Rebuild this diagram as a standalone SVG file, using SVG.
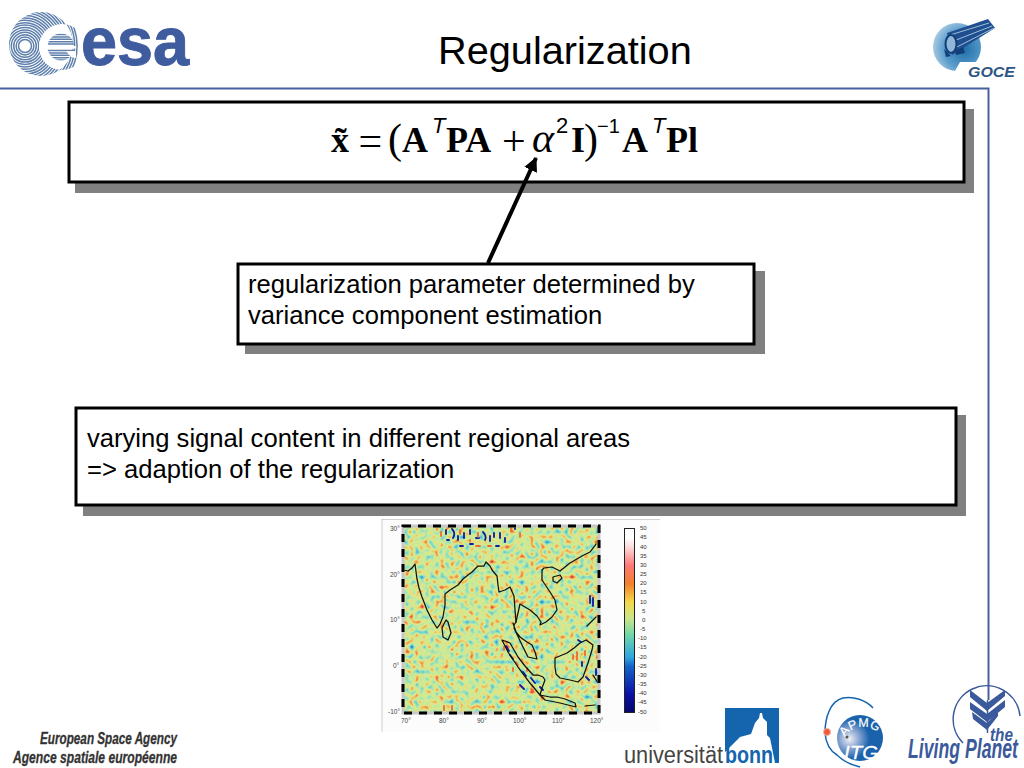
<svg xmlns="http://www.w3.org/2000/svg" xmlns:xlink="http://www.w3.org/1999/xlink" width="1024" height="768" viewBox="0 0 1024 768">
<style>
.box{fill:#fff;stroke:#000;stroke-width:3}
.shadow{fill:#808080}
.t{font-family:"Liberation Sans",Arial,sans-serif;font-size:25.6px;fill:#000}
.fb{font-family:"Liberation Serif","Times New Roman",serif;font-weight:bold;font-size:36px;fill:#000}
.fr{font-family:"Liberation Serif","Times New Roman",serif;font-size:42px;fill:#000}
.fs{font-family:"Liberation Sans",Arial,sans-serif;font-size:22px;fill:#000}
.ax{font-family:"Liberation Sans",Arial,sans-serif;font-size:6.5px;fill:#444}
.cb{font-family:"Liberation Sans",Arial,sans-serif;font-size:6px;fill:#333}
.lp{fill:#3b5a9c}
.coast{fill:none;stroke:#111;stroke-width:1.250;stroke-linejoin:round;stroke-linecap:round}
</style>
<defs>
<marker id="ah" markerUnits="userSpaceOnUse" markerWidth="18" markerHeight="18" refX="13" refY="7" orient="auto"><path d="M0,0L14,7L0,14Z" fill="#000"/></marker>
<filter id="noise" x="0" y="0" width="1" height="1" color-interpolation-filters="sRGB">
<feTurbulence type="fractalNoise" baseFrequency="0.2" numOctaves="1" seed="7"/>
<feColorMatrix type="matrix" values="1 0 0 0 0 1 0 0 0 0 1 0 0 0 0 0 0 0 0 1"/>
<feComponentTransfer>
<feFuncR type="table" tableValues="0.1 0.1 0.2 0.5 0.68 0.82 0.9 0.95 0.9 0.9 0.9"/>
<feFuncG type="table" tableValues="0.2 0.3 0.65 0.85 0.9 0.92 0.88 0.66 0.3 0.3 0.3"/>
<feFuncB type="table" tableValues="0.7 0.8 0.88 0.78 0.68 0.58 0.5 0.32 0.25 0.25 0.25"/>
</feComponentTransfer>
<feGaussianBlur stdDeviation="0.5"/>
</filter>
<filter id="soft"><feGaussianBlur stdDeviation="0.5"/></filter>
<linearGradient id="cbar" x1="0" y1="0" x2="0" y2="1">
<stop offset="0" stop-color="#fff"/><stop offset="0.05" stop-color="#fff"/><stop offset="0.1" stop-color="#fbdcdc"/><stop offset="0.2" stop-color="#f77"/><stop offset="0.3" stop-color="#f2802c"/><stop offset="0.4" stop-color="#f5d84a"/><stop offset="0.49" stop-color="#c8e68a"/><stop offset="0.58" stop-color="#6fd6a8"/><stop offset="0.7" stop-color="#2fa5e0"/><stop offset="0.75" stop-color="#1464c8"/><stop offset="0.9" stop-color="#0a10a8"/><stop offset="1" stop-color="#06066a"/>
</linearGradient>
<radialGradient id="goce" cx="0.65" cy="0.55" r="0.75"><stop offset="0" stop-color="#1f6fa8"/><stop offset="0.55" stop-color="#5a9ccc"/><stop offset="1" stop-color="#c5dcea"/></radialGradient>
<radialGradient id="itg" cx="0.27" cy="0.52" r="0.7"><stop offset="0" stop-color="#f0f2f6"/><stop offset="0.3" stop-color="#8aa6d2"/><stop offset="0.62" stop-color="#1a62ac"/></radialGradient>
<clipPath id="plot"><rect x="403" y="526" width="196" height="187"/></clipPath>
<clipPath id="eclip"><circle cx="61" cy="47" r="13.500"/></clipPath>
<clipPath id="gclip"><path fill-rule="evenodd" clip-rule="evenodd" d="M41,12A32,32 0 1 1 41,76A32,32 0 1 1 41,12ZM62,24A23,23 0 1 0 62,70A23,23 0 1 0 62,24Z"/></clipPath>
<path id="apmg" d="M845,737A21,21 0 0 1 878,733"/>
</defs>
<rect width="1024" height="768" fill="#fff"/>

<g id="frame" fill="none" stroke="#4a5f9e" stroke-width="2"><path d="M0,88.500H988.500V700"/></g>

<g id="esa-logo">
<g clip-path="url(#gclip)" fill="none" stroke="#5f80ac" stroke-width="1.500">
<circle cx="25" cy="46" r="6.500"/><circle cx="25" cy="46" r="8.900"/><circle cx="25" cy="46" r="11.300"/><circle cx="25" cy="46" r="13.700"/><circle cx="25" cy="46" r="16.100"/><circle cx="25" cy="46" r="18.500"/><circle cx="25" cy="46" r="20.900"/><circle cx="25" cy="46" r="23.300"/><circle cx="25" cy="46" r="25.700"/><circle cx="25" cy="46" r="28.100"/><circle cx="25" cy="46" r="30.500"/><circle cx="25" cy="46" r="32.900"/><circle cx="25" cy="46" r="35.300"/><circle cx="25" cy="46" r="37.700"/><circle cx="25" cy="46" r="40.100"/><circle cx="25" cy="46" r="42.500"/><circle cx="25" cy="46" r="44.900"/><circle cx="25" cy="46" r="47.300"/><circle cx="25" cy="46" r="49.700"/><circle cx="25" cy="46" r="52.100"/>
</g>
<g clip-path="url(#eclip)" stroke="#5f80ac" stroke-width="1.500"><path d="M46,34.500H76M46,36.900H76M46,39.300H76M46,41.700H76M46,44.100H76M46,50.500H76M46,52.900H76M46,55.300H76M46,57.700H76M46,60.100H76"/></g>
<path d="M56,46L76,46V48.500L58,49Z" fill="#fff"/>
<path d="M66,51L76,51V58L71,57Z" fill="#fff"/>
<text x="81" y="65" font-family="Liberation Sans,Arial,sans-serif" font-weight="bold" font-size="68" fill="#3f5c9f" textLength="108" lengthAdjust="spacingAndGlyphs" stroke="#3f5c9f" stroke-width="1">esa</text>
</g>

<text id="title" x="438" y="64" font-family="Liberation Sans,Arial,sans-serif" font-size="39.700px" fill="#000">Regularization</text>

<g id="goce-logo">
<circle cx="957" cy="47" r="24" fill="url(#goce)"/>
<path d="M960,62H1020V80H950Z" fill="#fff"/>
<path d="M947,33L988,19L995,28L952,55Z" fill="#1f4f8f"/>
<path d="M950,35L989,23M951,42L992,26M953,49L994,28" stroke="#9fc0dc" stroke-width="1" fill="none"/>
<ellipse cx="951" cy="44" rx="5.500" ry="9" fill="#8fb8d8" stroke="#123e78" stroke-width="2"/>
<path d="M944,49L951,56L946,57ZM955,51L963,47L965,53L956,55Z" fill="#123e78"/>
<text x="968" y="77" font-family="Liberation Sans,Arial,sans-serif" font-weight="bold" font-style="italic" font-size="14" fill="#2d5684" textLength="47" lengthAdjust="spacingAndGlyphs">GOCE</text>
</g>

<g id="formula-box">
<rect class="shadow" x="75" y="109" width="899" height="84"/>
<rect class="box" x="69" y="102" width="895" height="80"/>
<text class="fb" x="331" y="152">x&#771;</text>
<text class="fr" x="358.500" y="155">=</text>
<text class="fr" x="388" y="153">(</text>
<text class="fb" x="402" y="152">A</text>
<text class="fs" x="432" y="133" font-style="italic">T</text>
<text class="fb" x="446" y="152">PA</text>
<text class="fr" x="502" y="155">+</text>
<text class="fr" x="532" y="152" font-style="italic">&#945;</text>
<text class="fs" x="556" y="133">2</text>
<text class="fb" x="571" y="152">I</text>
<text class="fr" x="584" y="153">)</text>
<text class="fs" x="597" y="133" style="font-size:20px">&#8722;1</text>
<text class="fb" x="622" y="152">A</text>
<text class="fs" x="652" y="133" font-style="italic">T</text>
<text class="fb" x="666" y="152">Pl</text>
</g>

<g id="parameter-box">
<rect class="shadow" x="245" y="271" width="520" height="83"/>
<rect class="box" x="238" y="264" width="516" height="80"/>
<text class="t" x="248" y="293">regularization parameter determined by</text>
<text class="t" x="248" y="324">variance component estimation</text>
</g>

<g id="signal-box">
<rect class="shadow" x="83" y="415" width="883" height="101"/>
<rect class="box" x="76" y="408" width="880" height="97"/>
<text class="t" x="87" y="447">varying signal content in different regional areas</text>
<text class="t" x="87" y="478">=&gt; adaption of the regularization</text>
</g>

<g id="connectors">
<path d="M488,263L536,158" stroke="#000" stroke-width="4" fill="none" marker-end="url(#ah)"/>
</g>

<g id="map">
<rect x="381" y="519" width="279" height="213" fill="#fcfcfc"/>
<path d="M381,519.500H660M382,519V732" stroke="#d0d0d0" stroke-width="1" fill="none"/>
<rect x="403" y="526" width="196" height="187" filter="url(#noise)"/>
<g clip-path="url(#plot)" filter="url(#soft)">
<g fill="none" stroke="#0a1aa0" stroke-width="1.800" stroke-linecap="round">
<path d="M446,530V534M452,529Q456,533 453,538M458,536V540M464,533V538M470,530V534M476,538H479M483,532Q487,536 485,540M490,536V541M494,533V537M500,533V538M505,538V542M460,546H463M496,546H499M447,540H449M470,544H473M515,526V529"/>
<path d="M506,646L509,651M510,655L513,659M523,672L526,676M531,678L535,683M540,687L543,690M520,685L524,689M590,596V603M593,598V606M596,669V675M582,662V666M578,640L581,642M586,677L589,680"/>
</g>
<g fill="none" stroke="#ee6a30" stroke-width="1.800" stroke-linecap="round">
<path d="M441,532V536M460,530V534M478,533V537M476,546H480M488,546H491M511,527V531M520,533V537M470,540V541M504,647V650M516,662L518,665M531,689L533,690M573,655V659M577,652V660M585,651V655M444,706V710M452,706V710M513,668V671M527,668V671"/>
</g>
</g>
<g id="coastlines">
<path class="coast" d="M403,570L408,571L412,568L415,564L417,579L419,588L422,597L427,610L432,620L437,628L440,624L443,617L445,605L445,594L450,590L458,585L463,579L468,575L472,572L478,566L484,566L486,562L490,566L492,570L497,576L498,585L499,592L505,590L510,587L514,596L515,610L516,622L514,625"/>
<path class="coast" d="M513,623L516,632L520,637L527,642L532,645L535,652L537,659L528,657L522,645L514,628"/>
<path class="coast" d="M516,622L520,604L530,610L537,616L541,622L540,625L546,622L552,617L557,610L555,600L550,592L542,580L542,570L544,568L552,567L560,571L570,563L582,556L590,552L596,544"/>
<path class="coast" d="M446,620L442,628L443,637L448,640L451,633L448,622Z"/>
<path class="coast" d="M553,577L560,575L562,578L557,583L553,581Z"/>
<path class="coast" d="M502,640L510,643L518,657L525,666L533,675L538,675L543,677L545,680L542,688L540,695L530,683L518,667L508,652Z"/>
<path class="coast" d="M540,695L550,697L557,697L565,699L575,703L576,707L568,705L560,703L545,700Z"/>
<path class="coast" d="M555,658L567,653L574,648L580,643L586,640L593,645L592,650L588,663L583,677L578,682L570,680L560,678L556,674L555,667Z"/>
<path class="coast" d="M587,626L596,617M593,675L598,683M585,706L595,705"/>
</g>
<rect x="403" y="526" width="196" height="187" fill="none" stroke="#c8c8c8" stroke-width="3"/>
<rect x="403" y="526" width="196" height="187" fill="none" stroke="#000" stroke-width="3" stroke-dasharray="8,7"/>
<g class="ax">
<text x="390" y="531">30°</text><text x="390" y="577">20°</text><text x="390" y="622">10°</text><text x="393" y="668">0°</text><text x="388" y="714">-10°</text>
<text x="401" y="723">70°</text><text x="439" y="723">80°</text><text x="477" y="723">90°</text><text x="513" y="723">100°</text><text x="552" y="723">110°</text><text x="590" y="723">120°</text>
</g>
<rect x="624.500" y="528.500" width="10" height="184" fill="url(#cbar)" stroke="#222" stroke-width="1"/>
<g class="cb">
<text x="640" y="530">50</text><text x="640" y="539">45</text><text x="640" y="548.500">40</text><text x="640" y="557.500">35</text><text x="640" y="566.500">30</text><text x="640" y="576">25</text><text x="640" y="585">20</text><text x="640" y="594">15</text><text x="640" y="603.500">10</text><text x="642" y="612.500">5</text><text x="642" y="622">0</text><text x="640" y="631">-5</text><text x="638" y="640">-10</text><text x="638" y="649">-15</text><text x="638" y="658.500">-20</text><text x="638" y="667.500">-25</text><text x="638" y="676.500">-30</text><text x="638" y="686">-35</text><text x="638" y="695">-40</text><text x="638" y="704">-45</text><text x="638" y="713.500">-50</text>
</g>
</g>

<g id="agency-text" font-family="Liberation Sans,Arial,sans-serif" font-weight="bold" font-style="italic" font-size="17" fill="#333" stroke="#333" stroke-width="0.300">
<text x="40" y="744" textLength="137" lengthAdjust="spacingAndGlyphs">European Space Agency</text>
<text x="13" y="763" textLength="164" lengthAdjust="spacingAndGlyphs">Agence spatiale européenne</text>
</g>

<g id="bonn-logo">
<path d="M725,708H779V763H775L770,738L767,735V722L763,718L762,713H760L759,718L755,723L751,734L740,737L725,752Z" fill="#1464ae"/>
<text x="624" y="762.500" font-family="Liberation Sans,Arial,sans-serif" font-size="23" fill="#444" textLength="99" lengthAdjust="spacingAndGlyphs">universität</text>
<text x="725" y="762.500" font-family="Liberation Sans,Arial,sans-serif" font-weight="bold" font-size="23" fill="#1464ae" textLength="48" lengthAdjust="spacingAndGlyphs">bonn</text>
</g>

<g id="apmg-logo">
<path d="M873,708C866,700 853,696 843,698C830,701 825,718 825,733C826,745 832,752 837,755C843,761 851,765 860,767" fill="none" stroke="#1464ae" stroke-width="1.500"/>
<circle cx="860" cy="738" r="23" fill="url(#itg)"/>
<circle cx="847" cy="737" r="1.500" fill="#555"/>
<circle cx="827" cy="732" r="3.500" fill="#ee5a3a" stroke="#f5b0a0" stroke-width="1"/>
<text font-family="Liberation Sans,Arial,sans-serif" font-size="12.500" fill="#fff" stroke="#fff" stroke-width="0.200"><textPath xlink:href="#apmg" href="#apmg">APMG</textPath></text>
<text x="844" y="759" font-family="Liberation Sans,Arial,sans-serif" font-size="18" font-style="italic" fill="#fff" stroke="#fff" stroke-width="0.300" textLength="34" lengthAdjust="spacingAndGlyphs">ITG</text>
</g>

<g id="living-planet-logo">
<path d="M963,743A33.500,33.500 0 1 1 1020,716" fill="none" stroke="#3b5a9c" stroke-width="1.500"/>
<path class="lp" d="M970,690L987,703L1005,690L1005,696L987,711L970,697Z"/>
<path class="lp" d="M970,702L987,714L1005,700L1005,707L987,722L970,709Z"/>
<path class="lp" d="M972,712L987,723L998,711L998,716L987,730L973,719Z"/>
<path d="M987.500,700V733" stroke="#3b5a9c" stroke-width="1.500"/>
<text x="990" y="741" font-family="Liberation Sans,Arial,sans-serif" font-weight="bold" font-style="italic" font-size="18" fill="#3b5a9c" textLength="23" lengthAdjust="spacingAndGlyphs">the</text>
<text transform="translate(908,758) scale(0.655,1)" font-family="Liberation Sans,Arial,sans-serif" font-weight="bold" font-style="italic" font-size="27" fill="#3b5a9c">Living Planet</text>
</g>
</svg>
